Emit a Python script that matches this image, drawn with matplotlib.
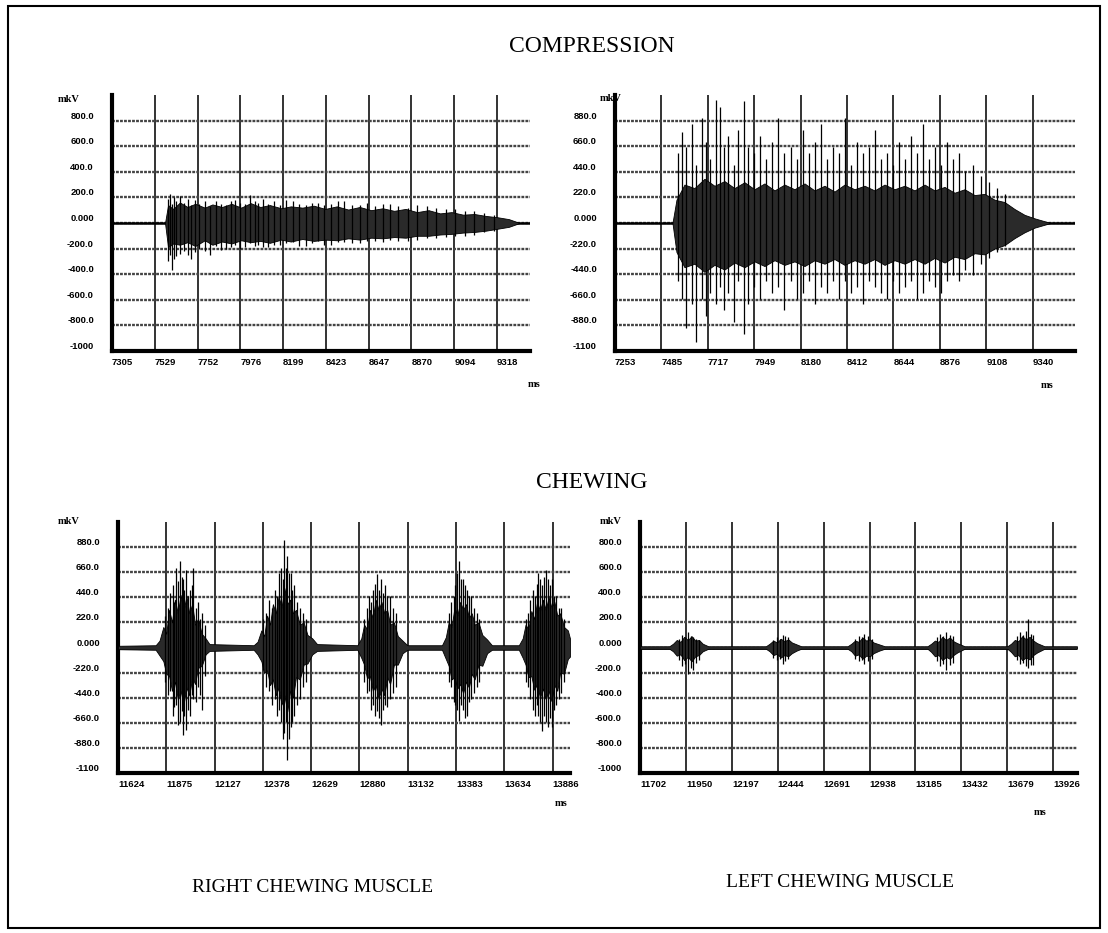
import numpy as np
import matplotlib.pyplot as plt
from matplotlib.patches import Rectangle

# ---- datos (mkV vs ms) ----
# compresion, panel superior izquierdo
c1_xticks = [7305, 7529, 7752, 7976, 8199, 8423, 8647, 8870, 9094, 9318]
c1_yticks = [800, 600, 400, 200, 0, -200, -400, -600, -800, -1000]
c1_ylabels = ['800.0', '600.0', '400.0', '200.0', '0.000', '-200.0', '-400.0', '-600.0', '-800.0', '-1000']
c1_t = [7582, 7598, 7625, 7660, 7700, 7740, 7790, 7830, 7880, 7930, 7980, 8030, 8080, 8130, 8190,
        8240, 8300, 8360, 8420, 8480, 8540, 8600, 8660, 8720, 8780, 8840, 8900, 8960, 9020, 9080,
        9140, 9200, 9260, 9320, 9380, 9436]
c1_hi = [0, 140, 110, 160, 125, 150, 120, 145, 125, 150, 120, 155, 125, 140, 115,
         130, 120, 135, 110, 130, 105, 125, 100, 115, 95, 110, 85, 100, 75, 85,
         65, 70, 55, 45, 30, 0]
c1_lo = [0, -190, -160, -170, -150, -180, -135, -170, -145, -160, -135, -150, -140, -155, -130,
         -145, -125, -140, -130, -135, -120, -130, -115, -120, -110, -115, -100, -100, -90, -85,
         -75, -70, -60, -45, -30, 0]
c1_spk_t = [7600, 7610, 7618, 7630, 7640, 7660, 7680, 7700, 7720, 7740, 7760, 7790, 7817, 7850,
            7875, 7900, 7925, 7948, 7975, 8000, 8026, 8050, 8070, 8095, 8120, 8150, 8183, 8215,
            8250, 8285, 8320, 8350, 8380, 8415, 8450, 8485, 8520, 8560, 8600, 8640, 8680, 8720,
            8760, 8800, 8850, 8900, 8950, 9000, 9050, 9100, 9150, 9200, 9250, 9300]
c1_spk_hi = [190, 230, 150, 200, 170, 210, 160, 190, 140, 180, 150, 170, 130, 170,
             150, 140, 170, 180, 160, 150, 220, 170, 160, 190, 150, 170, 140, 180,
             170, 150, 140, 160, 160, 140, 150, 170, 170, 140, 140, 160, 130, 150,
             150, 130, 120, 140, 130, 120, 110, 110, 90, 90, 80, 60]
c1_spk_lo = [-300, -250, -370, -280, -260, -240, -220, -250, -280, -230, -200, -220, -250, -180,
             -210, -200, -190, -170, -200, -190, -160, -180, -170, -190, -190, -170, -170, -160,
             -150, -180, -180, -160, -140, -170, -170, -150, -150, -160, -160, -140, -140, -150,
             -130, -140, -140, -130, -120, -120, -110, -100, -100, -90, -70, -60]

# compresion, panel superior derecho
c2_xticks = [7253, 7485, 7717, 7949, 8180, 8412, 8644, 8876, 9108, 9340]
c2_yticks = [880, 660, 440, 220, 0, -220, -440, -660, -880, -1100]
c2_ylabels = ['880.0', '660.0', '440.0', '220.0', '0.000', '-220.0', '-440.0', '-660.0', '-880.0', '-1100']
c2_t = [7540, 7560, 7600, 7650, 7700, 7750, 7800, 7850, 7900, 7950, 8000, 8050, 8100, 8150, 8200,
        8250, 8300, 8350, 8400, 8450, 8500, 8550, 8600, 8650, 8700, 8750, 8800, 8850, 8900, 8950,
        9000, 9050, 9100, 9150, 9200, 9250, 9300, 9350, 9400, 9430]
c2_hi = [0, 200, 330, 300, 380, 320, 360, 300, 350, 290, 340, 280, 330, 290, 340,
         280, 320, 270, 330, 290, 320, 280, 330, 290, 320, 280, 330, 280, 310, 260,
         290, 240, 250, 200, 180, 120, 70, 40, 15, 0]
c2_lo = [0, -250, -380, -350, -420, -360, -400, -340, -380, -330, -370, -320, -360, -330, -370,
         -320, -350, -310, -360, -320, -350, -310, -360, -320, -350, -310, -350, -300, -340, -290,
         -310, -260, -270, -220, -190, -130, -80, -40, -15, 0]
c2_spk_t = [7570, 7590, 7610, 7640, 7660, 7690, 7710, 7730, 7760, 7780, 7800, 7820, 7850, 7870,
            7900, 7920, 7950, 7980, 8010, 8040, 8070, 8100, 8130, 8160, 8190, 8220, 8250, 8280,
            8310, 8340, 8370, 8400, 8430, 8460, 8490, 8520, 8550, 8580, 8610, 8640, 8670, 8700,
            8730, 8760, 8790, 8820, 8850, 8880, 8910, 8940, 8970, 9000, 9040, 9080, 9120, 9160, 9200]
c2_spk_hi = [600, 780, 650, 850, 500, 900, 700, 550, 1060, 1000, 650, 750, 500, 800,
             1050, 650, 600, 750, 550, 700, 900, 600, 650, 550, 800, 600, 700, 850,
             550, 650, 600, 900, 500, 700, 600, 650, 800, 550, 600, 500, 700, 550,
             750, 600, 850, 550, 650, 500, 700, 550, 600, 450, 500, 400, 350, 300, 250]
c2_spk_lo = [-500, -650, -900, -700, -1020, -650, -800, -600, -700, -550, -750, -600, -850, -500,
             -950, -700, -550, -650, -500, -600, -550, -750, -500, -650, -600, -500, -700, -550,
             -600, -500, -650, -500, -600, -550, -700, -500, -550, -600, -650, -500, -600, -550,
             -500, -650, -600, -500, -550, -600, -500, -450, -500, -400, -450, -350, -300, -250, -200]

# masticacion, musculo derecho
m1_xticks = [11624, 11875, 12127, 12378, 12629, 12880, 13132, 13383, 13634, 13886]
m1_yticks = [880, 660, 440, 220, 0, -220, -440, -660, -880, -1100]
m1_ylabels = ['880.0', '660.0', '440.0', '220.0', '0.000', '-220.0', '-440.0', '-660.0', '-880.0', '-1100']
m1_t = [11624, 11820,
        11840, 11860, 11875, 11890, 11905, 11920, 11935, 11950, 11965, 11980, 11995, 12010, 12025,
        12040, 12060, 12080, 12100,
        12330, 12350, 12370, 12385, 12400, 12415, 12430, 12445, 12460, 12475, 12490, 12505, 12520,
        12535, 12550, 12570, 12590, 12610, 12635, 12660,
        12870, 12890, 12905, 12920, 12935, 12950, 12965, 12980, 12995, 13010, 13025, 13040, 13060,
        13080, 13105, 13130,
        13310, 13330, 13345, 13360, 13375, 13390, 13405, 13420, 13435, 13450, 13465, 13480, 13500,
        13520, 13545, 13570,
        13710, 13730, 13745, 13760, 13775, 13790, 13805, 13820, 13835, 13850, 13865, 13880, 13895,
        13910, 13925, 13945, 13965, 13976]
m1_hi = [15, 20,
         60, 180, 120, 330, 220, 420, 300, 460, 320, 450, 300, 380, 200,
         250, 120, 80, 30,
         20, 50, 150, 100, 280, 200, 380, 300, 450, 350, 520, 380, 420,
         300, 330, 200, 220, 110, 80, 30,
         20, 80, 200, 160, 330, 260, 420, 330, 400, 300, 330, 200, 220,
         100, 60, 20,
         20, 90, 220, 180, 350, 280, 400, 330, 380, 260, 300, 200, 220,
         110, 70, 20,
         20, 80, 200, 160, 320, 250, 400, 320, 420, 330, 440, 350, 400,
         280, 300, 180, 150, 80]
m1_lo = [-15, -20,
         -70, -120, -230, -250, -380, -300, -450, -380, -500, -350, -420, -260, -320,
         -180, -160, -60, -30,
         -20, -60, -120, -220, -200, -330, -280, -420, -350, -500, -420, -560, -380,
         -440, -260, -280, -150, -140, -60, -30,
         -20, -90, -150, -270, -250, -380, -330, -450, -360, -420, -260, -320, -150,
         -150, -50, -20,
         -20, -100, -160, -280, -260, -360, -320, -400, -300, -350, -230, -280, -150,
         -160, -50, -20,
         -20, -90, -150, -260, -250, -370, -320, -440, -360, -450, -380, -470, -330,
         -380, -220, -230, -100, -80]
m1_spk_t = [11870, 11885, 11897, 11910, 11918, 11928, 11938, 11947, 11955, 11962, 11970, 11978,
            11988, 11997, 12008, 12016, 12028, 12040, 12052, 12060, 12075,
            12380, 12395, 12410, 12425, 12440, 12452, 12462, 12472, 12482, 12490, 12498, 12505,
            12513, 12522, 12532, 12542, 12555, 12570, 12585, 12600,
            12905, 12918, 12930, 12942, 12952, 12962, 12972, 12982, 12992, 13002, 13012, 13025,
            13040, 13055, 13070,
            13345, 13358, 13370, 13380, 13390, 13398, 13408, 13418, 13428, 13438, 13450, 13462,
            13475, 13490, 13505,
            13745, 13758, 13770, 13782, 13792, 13802, 13812, 13822, 13832, 13842, 13852, 13862,
            13872, 13882, 13892, 13905, 13918, 13930, 13945]
m1_spk_hi = [280, 350, 480, 550, 400, 700, 580, 760, 620, 600, 500, 680,
             450, 500, 550, 700, 350, 400, 250, 300, 200,
             250, 300, 420, 350, 500, 450, 650, 700, 600, 940, 700, 800,
             650, 650, 500, 550, 400, 350, 300, 250,
             250, 350, 450, 400, 500, 560, 640, 500, 600, 480, 550, 450,
             450, 350, 300,
             300, 400, 450, 550, 650, 760, 600, 600, 550, 500, 450, 450,
             350, 300, 250,
             250, 300, 420, 500, 450, 560, 650, 600, 550, 620, 680, 600,
             550, 600, 450, 450, 350, 350, 250]
m1_spk_lo = [-300, -420, -380, -600, -520, -500, -680, -650, -560, -770, -600, -720,
             -550, -600, -420, -450, -480, -350, -420, -550, -250,
             -200, -350, -380, -500, -450, -600, -550, -650, -800, -750, -650, -990,
             -800, -700, -650, -600, -500, -450, -350, -300,
             -300, -400, -380, -550, -500, -600, -560, -620, -680, -550, -500, -520,
             -450, -400, -350,
             -300, -350, -480, -500, -550, -640, -500, -550, -620, -600, -480, -450,
             -400, -350, -300,
             -300, -350, -450, -550, -600, -500, -600, -650, -730, -600, -650, -700,
             -620, -700, -550, -500, -450, -400, -300]

# masticacion, musculo izquierdo
m2_xticks = [11702, 11950, 12197, 12444, 12691, 12938, 13185, 13432, 13679, 13926]
m2_yticks = [800, 600, 400, 200, 0, -200, -400, -600, -800, -1000]
m2_ylabels = ['800.0', '600.0', '400.0', '200.0', '0.000', '-200.0', '-400.0', '-600.0', '-800.0', '-1000']
m2_t = [11702, 11860, 11880, 11900, 11920, 11940, 11960, 11980, 12000, 12020, 12040, 12070,
        12380, 12400, 12420, 12440, 12460, 12480, 12500, 12520, 12545, 12570,
        12820, 12840, 12860, 12880, 12900, 12920, 12940, 12960, 12990, 13020,
        13250, 13270, 13290, 13310, 13330, 13350, 13370, 13390, 13410, 13450,
        13680, 13700, 13720, 13740, 13760, 13780, 13800, 13820, 13840, 13880, 14055]
m2_hi = [10, 10, 30, 60, 45, 85, 60, 90, 55, 60, 30, 10,
         10, 30, 55, 40, 70, 50, 65, 40, 25, 10,
         10, 30, 55, 45, 80, 55, 65, 40, 25, 10,
         10, 30, 55, 45, 85, 60, 80, 50, 35, 10,
         10, 30, 60, 50, 90, 65, 85, 55, 35, 10, 10]
m2_lo = [-10, -10, -30, -65, -55, -100, -75, -110, -70, -60, -30, -10,
         -10, -30, -60, -50, -80, -60, -70, -45, -25, -10,
         -10, -30, -65, -55, -90, -65, -70, -45, -25, -10,
         -10, -35, -70, -60, -100, -75, -90, -60, -40, -10,
         -10, -35, -70, -60, -100, -80, -95, -60, -40, -10, -10]
m2_spk_t = [11910, 11930, 11945, 11960, 11975, 11990, 12005, 12020,
            12420, 12440, 12455, 12470, 12485, 12500,
            12860, 12880, 12895, 12910, 12930, 12950,
            13300, 13320, 13335, 13350, 13370, 13390,
            13730, 13750, 13765, 13780, 13790, 13805, 13820]
m2_spk_hi = [70, 100, 80, 120, 90, 80, 70, 60,
             60, 80, 70, 100, 90, 80,
             70, 90, 80, 110, 90, 70,
             80, 110, 90, 120, 100, 90,
             90, 120, 100, 130, 230, 110, 100]
m2_spk_lo = [-100, -150, -130, -210, -160, -180, -120, -100,
             -80, -100, -90, -130, -110, -90,
             -90, -110, -100, -130, -110, -90,
             -110, -150, -130, -180, -140, -120,
             -100, -130, -120, -150, -160, -140, -140]

panels = [
    # (rect, xlim, ylim, ticks, labels, core, spikes, mkV pos, ms pos)
    ([0.1011, 0.6238, 0.3772, 0.2744], (7305, 9490), (-1000, 1000), c1_xticks, c1_yticks, c1_ylabels,
     (c1_t, c1_hi, c1_lo), (c1_spk_t, c1_spk_hi, c1_spk_lo), (0.052, 0.891), (0.476, 0.585)),
    ([0.5551, 0.6238, 0.4151, 0.2744], (7253, 9552), (-1100, 1100), c2_xticks, c2_yticks, c2_ylabels,
     (c2_t, c2_hi, c2_lo), (c2_spk_t, c2_spk_hi, c2_spk_lo), (0.541, 0.892), (0.939, 0.584)),
    ([0.1065, 0.1715, 0.4079, 0.2690], (11624, 13976), (-1100, 1100), m1_xticks, m1_yticks, m1_ylabels,
     (m1_t, m1_hi, m1_lo), (m1_spk_t, m1_spk_hi, m1_spk_lo), (0.052, 0.438), (0.501, 0.136)),
    ([0.5776, 0.1715, 0.3944, 0.2690], (11702, 14055), (-1000, 1000), m2_xticks, m2_yticks, m2_ylabels,
     (m2_t, m2_hi, m2_lo), (m2_spk_t, m2_spk_hi, m2_spk_lo), (0.541, 0.438), (0.933, 0.127)),
]

fig = plt.figure(figsize=(11.08, 9.33), dpi=100)
fig.patch.set_facecolor('white')

for rect, xl, yl, xt, yt, ylab, core, spk, mk_pos, ms_pos in panels:
    ax = fig.add_axes(rect)
    ax.set_xlim(*xl)
    ax.set_ylim(*yl)
    ax.set_xticks(xt)
    ax.set_xticklabels([str(v) for v in xt])
    ax.set_yticks(yt)
    ax.set_yticklabels(ylab)
    ax.tick_params(length=0, labelsize=6.8)
    ax.tick_params(axis='y', pad=13)
    ax.tick_params(axis='x', pad=5)
    for lbl in ax.get_yticklabels() + ax.get_xticklabels():
        lbl.set_fontweight('bold')
        lbl.set_family('Liberation Sans')
    for lbl in ax.get_yticklabels():
        lbl.set_verticalalignment('bottom')
    for lbl in ax.get_xticklabels():
        lbl.set_horizontalalignment('left')
    for s in ['top', 'right']:
        ax.spines[s].set_visible(False)
    for s in ['left', 'bottom']:
        ax.spines[s].set_linewidth(3)
    ax.grid(axis='y', color='#444444', lw=1.7, ls=(0, (1.2, 0.5)))
    ax.grid(axis='x', color='#111111', lw=1.2)
    ax.set_axisbelow(True)
    ax.axhline(0, color='black', lw=1.8, zorder=2)
    ax.fill_between(core[0], core[2], core[1], color='#2a2a2a', lw=0.6, edgecolor='black', zorder=3)
    ax.vlines(spk[0], spk[2], spk[1], color='black', lw=0.9, zorder=4)
    fig.text(mk_pos[0], mk_pos[1], 'mkV', fontsize=7.5, family='Liberation Serif', fontweight='bold')
    fig.text(ms_pos[0], ms_pos[1], 'ms', fontsize=7.5, family='Liberation Serif', fontweight='bold')

fig.text(0.534, 0.950, 'COMPRESSION', ha='center', va='center', fontsize=17, family='Liberation Serif')
fig.text(0.534, 0.483, 'CHEWING', ha='center', va='center', fontsize=17, family='Liberation Serif')
fig.text(0.282, 0.049, 'RIGHT CHEWING MUSCLE', ha='center', va='center', fontsize=14, family='Liberation Serif')
fig.text(0.758, 0.054, 'LEFT CHEWING MUSCLE', ha='center', va='center', fontsize=14, family='Liberation Serif')

fig.patches.append(Rectangle((0.007, 0.005), 0.986, 0.989, transform=fig.transFigure,
                             fill=False, lw=1.5, edgecolor='black'))

fig.savefig('out.png', dpi=100)
